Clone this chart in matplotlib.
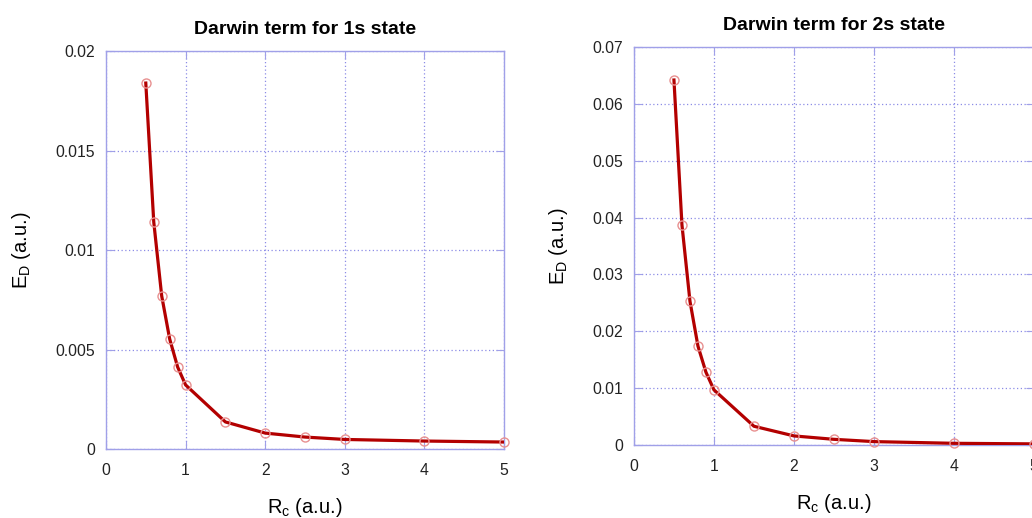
import matplotlib.pyplot as plt

plt.rcParams['font.family'] = ['Liberation Sans', 'DejaVu Sans']
plt.rcParams['mathtext.fontset'] = 'custom'
plt.rcParams['mathtext.rm'] = 'Liberation Sans'

# data
rc = [0.5, 0.6, 0.7, 0.8, 0.9, 1.0, 1.5, 2.0, 2.5, 3.0, 4.0, 5.0]
ed_1s = [0.01839, 0.01141, 0.00769, 0.00553, 0.00412, 0.00322,
         0.00136, 0.00080, 0.00060, 0.00048, 0.00040, 0.00035]
ed_2s = [0.0642, 0.0387, 0.0253, 0.0174, 0.0128, 0.0097,
         0.0033, 0.0016, 0.0010, 0.0006, 0.0003, 0.0002]

panels = [
    ("Darwin term for 1s state", ed_1s, [0.1027, 0.1332, 0.3857, 0.7683],
     0.02, [0, 0.005, 0.01, 0.015, 0.02], ['0', '0.005', '0.01', '0.015', '0.02']),
    ("Darwin term for 2s state", ed_2s, [0.6143, 0.1409, 0.3876, 0.7683],
     0.07, [0, 0.01, 0.02, 0.03, 0.04, 0.05, 0.06, 0.07],
     ['0', '0.01', '0.02', '0.03', '0.04', '0.05', '0.06', '0.07']),
]

grid_col = '#8c8ce6'
spine_col = '#a0a0e8'

fig = plt.figure(figsize=(10.32, 5.18), dpi=100)

for title, ed, pos, ymax, yt, ytl in panels:
    ax = fig.add_axes(pos)
    ax.plot(rc, ed, color='#b30000', lw=2.3, zorder=3)
    ax.plot(rc, ed, 'o', ms=6.5, mfc='none', mec='#e89090', mew=1.0, zorder=4,
            clip_on=False)
    ax.set_xlim(0, 5)
    ax.set_ylim(0, ymax)
    ax.set_xticks([0, 1, 2, 3, 4, 5])
    ax.set_xticklabels(['0', '1', '2', '3', '4', '5'])
    ax.set_yticks(yt)
    ax.set_yticklabels(ytl)
    ax.grid(True, color=grid_col, ls=(0, (1, 2)), lw=0.9)
    for s in ax.spines.values():
        s.set_color(spine_col)
        s.set_linewidth(1.0)
    ax.tick_params(direction='in', length=6, color=spine_col, labelsize=11.3,
                   labelcolor='#222222', top=True, right=True, pad=8)
    ax.tick_params(axis='x', pad=10)
    ax.set_title(title, fontsize=14, fontweight='bold', pad=12)
    ax.set_ylabel(r'E$_\mathrm{D}$ (a.u.)', fontsize=14.5, labelpad=16)
    ax.set_xlabel(r'R$_\mathrm{c}$ (a.u.)', fontsize=14.5, labelpad=13)

fig.savefig('out.png', dpi=100)
